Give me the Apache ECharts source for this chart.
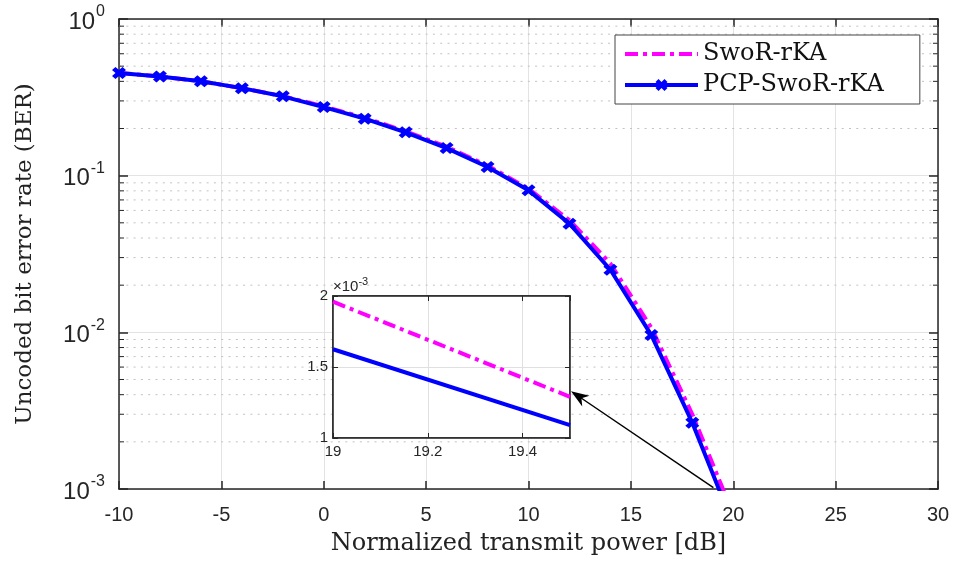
<!DOCTYPE html>
<html>
<head>
<meta charset="utf-8">
<script src="https://cdn.jsdelivr.net/npm/echarts@6/dist/echarts.min.js"></script>
<style>
html,body{margin:0;padding:0;background:#fff;}
#chart{width:959px;height:565px;}
</style>
</head>
<body>
<div id="chart"></div>
<script>
// ---- data ----
const snrDb = [-10, -8, -6, -4, -2, 0, 2, 4, 6, 8, 10, 12, 14, 16, 18, 20];
const berSwoR = [0.452, 0.430, 0.400, 0.362, 0.322, 0.277, 0.234, 0.192, 0.153, 0.116, 0.0825, 0.052, 0.0275, 0.0107, 0.0030, 0.00069];
const berPCP  = [0.452, 0.430, 0.400, 0.362, 0.321, 0.274, 0.231, 0.189, 0.150, 0.1135, 0.0806, 0.0494, 0.0251, 0.0096, 0.00265, 0.00059];

// zoomed inset (values in units of 1e-3)
const insetSnr = [19, 19.5];
const insetSwoR = [1.96, 1.29];
const insetPCP = [1.625, 1.09];

const yDecades = [1e-3, 1e-2, 1e-1, 1];
const minorVals = [];
[1e-3, 1e-2, 1e-1].forEach(d => { for (let k = 2; k <= 9; k++) minorVals.push(+(k * d).toPrecision(3)); });

const xMin = -10, xMax = 30;
const arrowTail = [19.03, 0.00102];   // main-axes coordinates
const arrowTip = [19.5, 1.33];        // inset-axes coordinates

const seriesNames = ['SwoR-rKA', 'PCP-SwoR-rKA'];

// ---- chart ----
const chart = echarts.init(document.getElementById('chart'), null, {renderer: 'canvas'});
const AX = '#262626';
const SANS = 'Liberation Sans';
const SERIF = 'DejaVu Serif';
const xMark = 'path://M0,2.5 L2.5,0 L5,2.5 L7.5,0 L10,2.5 L7.5,5 L10,7.5 L7.5,10 L5,7.5 L2.5,10 L0,7.5 L2.5,5 Z';
const LW = 4;

const option = {
  animation: false,
  backgroundColor: '#fff',
  grid: [
    {left: 119, top: 19, width: 819, height: 470, show: false},
    {left: 333, top: 296, width: 237, height: 142, show: true, backgroundColor: '#fff', borderColor: AX, borderWidth: 1.5, z: 5}
  ],
  legend: {
    data: [
      {name: seriesNames[0], itemStyle: {opacity: 0}, lineStyle: {width: LW}},
      {name: seriesNames[1], lineStyle: {width: LW}}
    ],
    orient: 'vertical',
    left: 615, top: 35,
    padding: [7, 36, 7, 8],
    itemGap: 7,
    itemWidth: 73,
    itemHeight: 15,
    backgroundColor: '#fff',
    borderColor: '#444',
    borderWidth: 1,
    textStyle: {fontFamily: SERIF, fontSize: 24, lineHeight: 22, color: '#111'}
  },
  xAxis: [
    {
      type: 'value', gridIndex: 0, min: xMin, max: xMax, interval: 5,
      name: 'Normalized transmit power [dB]', nameLocation: 'middle', nameGap: 43,
      nameTextStyle: {fontFamily: SERIF, fontSize: 24, color: '#222'},
      axisLine: {show: true, lineStyle: {color: AX, width: 1.5}},
      axisTick: {show: true, inside: true, length: 8, lineStyle: {color: AX, width: 1.5}},
      axisLabel: {fontFamily: SANS, fontSize: 20, color: AX, margin: 16},
      splitLine: {show: true, lineStyle: {color: '#e3e3e3', width: 1}}
    },
    {
      type: 'value', gridIndex: 0, position: 'top', min: xMin, max: xMax, interval: 5,
      axisLine: {show: true, onZero: false, lineStyle: {color: AX, width: 1.5}},
      axisTick: {show: true, inside: true, length: 8, lineStyle: {color: AX, width: 1.5}},
      axisLabel: {show: false}, splitLine: {show: false}
    },
    {
      type: 'value', gridIndex: 1, min: 19, max: 19.5, interval: 0.2, z: 6,
      axisLine: {show: true, lineStyle: {color: AX, width: 1.5}},
      axisTick: {show: true, inside: true, length: 5, lineStyle: {color: AX}},
      axisLabel: {fontFamily: SANS, fontSize: 15, color: AX, margin: 6, showMaxLabel: false},
      splitLine: {show: true, lineStyle: {color: '#e0e0e0', width: 1}}
    },
    {
      type: 'value', gridIndex: 1, position: 'top', min: 19, max: 19.5, interval: 0.2, z: 6,
      axisLine: {show: true, onZero: false, lineStyle: {color: AX, width: 1.5}},
      axisTick: {show: true, inside: true, length: 5, lineStyle: {color: AX}},
      axisLabel: {show: false}, splitLine: {show: false}
    }
  ],
  yAxis: [
    {
      type: 'log', logBase: 10, gridIndex: 0, min: yDecades[0], max: yDecades[yDecades.length - 1],
      name: 'Uncoded bit error rate (BER)', nameLocation: 'middle', nameGap: 82,
      nameTextStyle: {fontFamily: SERIF, fontSize: 23, color: '#222'},
      axisLine: {show: true, onZero: false, lineStyle: {color: AX, width: 1.5}},
      axisTick: {show: true, inside: true, length: 9, lineStyle: {color: AX, width: 1.5}},
      axisLabel: {
        margin: 14,
        formatter: v => '{b|10}{s|' + Math.round(Math.log10(v)) + '}',
        rich: {
          b: {fontFamily: SANS, fontSize: 24, color: AX, lineHeight: 30, verticalAlign: 'bottom'},
          s: {fontFamily: SANS, fontSize: 16, color: AX, verticalAlign: 'bottom', padding: [0, 0, 14, 1]}
        }
      },
      splitLine: {show: true, lineStyle: {color: '#e3e3e3', width: 1}}
    },
    {
      type: 'log', logBase: 10, gridIndex: 0, position: 'right', min: yDecades[0], max: yDecades[yDecades.length - 1],
      axisLine: {show: true, onZero: false, lineStyle: {color: AX, width: 1.5}},
      axisTick: {show: true, inside: true, length: 9, lineStyle: {color: AX, width: 1.5}},
      axisLabel: {show: false}, splitLine: {show: false}
    },
    {
      type: 'value', gridIndex: 1, min: 1, max: 2, interval: 0.5, z: 6,
      name: '{m|\u00d710}{s|-3}', nameLocation: 'end', nameGap: 2,
      nameTextStyle: {
        align: 'left', verticalAlign: 'bottom', padding: [0, 0, 0, 0],
        rich: {
          m: {fontFamily: SANS, fontSize: 15, color: AX, verticalAlign: 'bottom', lineHeight: 16},
          s: {fontFamily: SANS, fontSize: 11, color: AX, verticalAlign: 'bottom', padding: [0, 0, 7, 0]}
        }
      },
      axisLine: {show: true, onZero: false, lineStyle: {color: AX, width: 1.5}},
      axisTick: {show: true, inside: true, length: 5, lineStyle: {color: AX}},
      axisLabel: {fontFamily: SANS, fontSize: 15, color: AX, margin: 5},
      splitLine: {show: true, lineStyle: {color: '#e0e0e0', width: 1}}
    },
    {
      type: 'value', gridIndex: 1, position: 'right', min: 1, max: 2, interval: 0.5, z: 6,
      axisLine: {show: true, onZero: false, lineStyle: {color: AX, width: 1.5}},
      axisTick: {show: true, inside: true, length: 5, lineStyle: {color: AX}},
      axisLabel: {show: false}, splitLine: {show: false}
    }
  ],
  series: [
    {
      type: 'custom', name: 'minor-grid', xAxisIndex: 0, yAxisIndex: 0, silent: true, z: 1, clip: false,
      data: minorVals.map(v => [xMin, v]),
      encode: {x: 0, y: 1},
      renderItem: function (params, api) {
        const v = api.value(1);
        const a = api.coord([xMin, v]);
        const b = api.coord([xMax, v]);
        return {
          type: 'group',
          children: [
            {type: 'line', shape: {x1: a[0], y1: a[1], x2: b[0], y2: b[1]}, style: {stroke: '#c2c2c2', lineWidth: 1, lineDash: [2, 5.3]}},
            {type: 'line', shape: {x1: a[0], y1: a[1], x2: a[0] + 5, y2: a[1]}, style: {stroke: AX, lineWidth: 1}},
            {type: 'line', shape: {x1: b[0], y1: b[1], x2: b[0] - 5, y2: b[1]}, style: {stroke: AX, lineWidth: 1}}
          ]
        };
      }
    },
    {
      type: 'line', name: seriesNames[0], xAxisIndex: 0, yAxisIndex: 0, z: 3,
      data: snrDb.map((x, i) => [x, berSwoR[i]]),
      symbol: 'none', showSymbol: false, clip: true,
      lineStyle: {color: '#ff00ff', width: LW, type: [13, 5, 4, 5]},
      itemStyle: {color: '#ff00ff'}
    },
    {
      type: 'line', name: seriesNames[1], xAxisIndex: 0, yAxisIndex: 0, z: 4,
      data: snrDb.map((x, i) => [x, berPCP[i]]),
      symbol: xMark, symbolSize: [14, 12], showSymbol: true, clip: true,
      lineStyle: {color: '#0000ff', width: LW},
      itemStyle: {color: '#0000ff'}
    },
    {
      type: 'line', name: 'SwoR-rKA (zoom)', xAxisIndex: 2, yAxisIndex: 2, z: 7,
      data: insetSnr.map((x, i) => [x, insetSwoR[i]]),
      symbol: 'none', clip: true,
      lineStyle: {color: '#ff00ff', width: LW, type: [13, 5, 4, 5]}
    },
    {
      type: 'line', name: 'PCP-SwoR-rKA (zoom)', xAxisIndex: 2, yAxisIndex: 2, z: 7,
      data: insetSnr.map((x, i) => [x, insetPCP[i]]),
      symbol: 'none', clip: true,
      lineStyle: {color: '#0000ff', width: LW}
    }
  ]
};

chart.setOption(option);

// arrow from the curve to the inset, positioned through the axes' own scales
const tail = chart.convertToPixel({xAxisIndex: 0, yAxisIndex: 0}, arrowTail);
const tip = chart.convertToPixel({xAxisIndex: 2, yAxisIndex: 2}, arrowTip);
tip[0] += 1;
const dx = tail[0] - tip[0], dy = tail[1] - tip[1];
const len = Math.sqrt(dx * dx + dy * dy);
const ux = dx / len, uy = dy / len, nx = -uy, ny = ux;
const L = 18, W = 6.5;
chart.setOption({
  graphic: [
    {type: 'line', z: 20, shape: {x1: tail[0], y1: tail[1], x2: tip[0] + ux * 10, y2: tip[1] + uy * 10}, style: {stroke: '#000', lineWidth: 1.5}},
    {type: 'polygon', z: 20, shape: {points: [
      [tip[0], tip[1]],
      [tip[0] + ux * L + nx * W, tip[1] + uy * L + ny * W],
      [tip[0] + ux * L * 0.7, tip[1] + uy * L * 0.7],
      [tip[0] + ux * L - nx * W, tip[1] + uy * L - ny * W]
    ]}, style: {fill: '#000'}}
  ]
});
</script>
</body>
</html>
